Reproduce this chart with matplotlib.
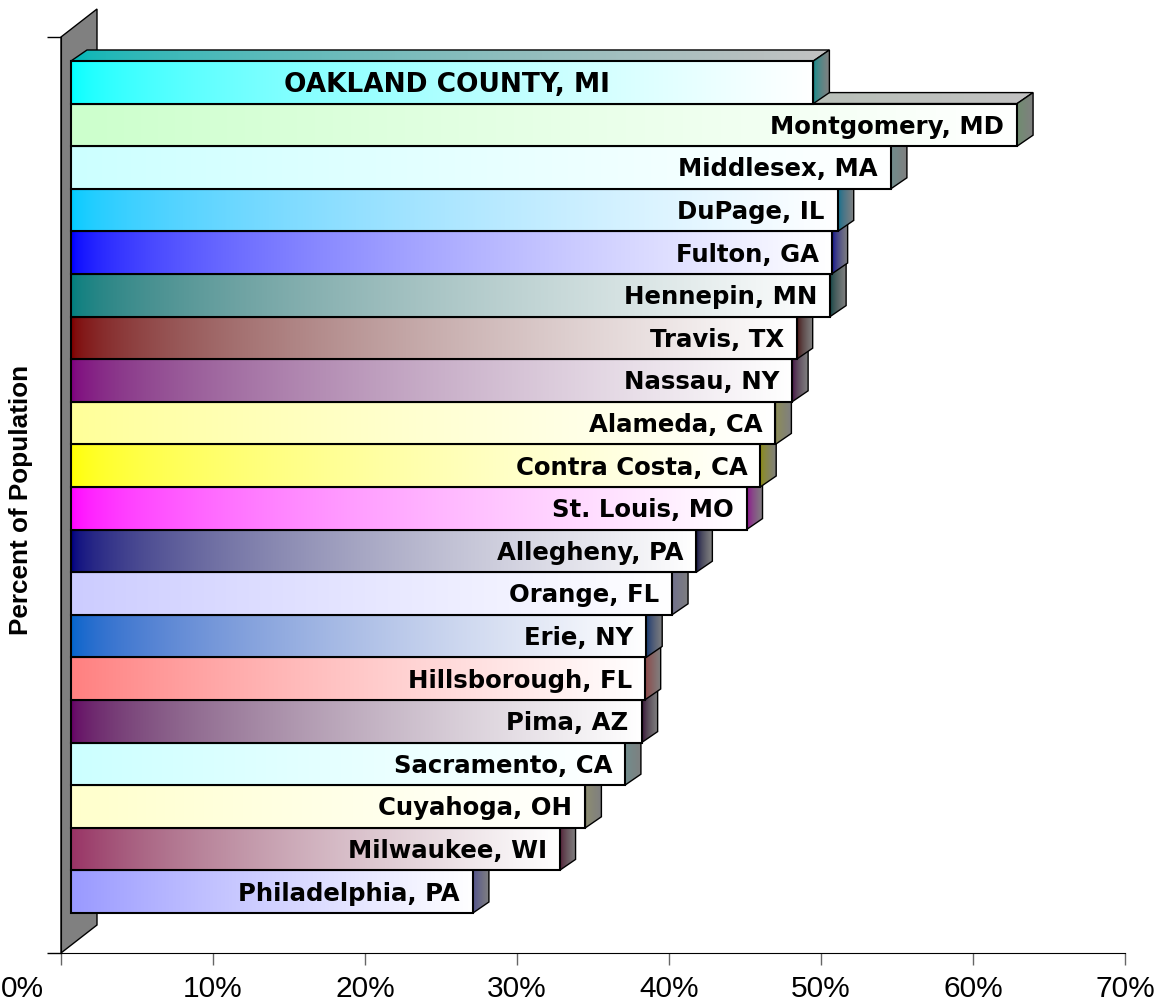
import numpy as np
import matplotlib
matplotlib.use("Agg")
import matplotlib.pyplot as plt
from matplotlib.patches import Polygon
from matplotlib.colors import to_rgb
from matplotlib.transforms import ScaledTranslation

plt.rcParams['font.family'] = ['Liberation Sans', 'DejaVu Sans']

# ---------------- data ----------------
counties = ["OAKLAND COUNTY, MI", "Montgomery, MD", "Middlesex, MA", "DuPage, IL",
            "Fulton, GA", "Hennepin, MN", "Travis, TX", "Nassau, NY", "Alameda, CA",
            "Contra Costa, CA", "St. Louis, MO", "Allegheny, PA", "Orange, FL",
            "Erie, NY", "Hillsborough, FL", "Pima, AZ", "Sacramento, CA",
            "Cuyahoga, OH", "Milwaukee, WI", "Philadelphia, PA"]
values = [49.5, 62.9, 54.6, 51.1, 50.7, 50.6, 48.4, 48.1, 47.0, 46.0,
          45.1, 41.8, 40.2, 38.5, 38.4, 38.2, 37.1, 34.5, 32.8, 27.1]
bar_colors = ["#00FFFF", "#CCFFCC", "#CCFFFF", "#00CCFF", "#0000FF", "#008080",
              "#800000", "#800080", "#FFFF99", "#FFFF00", "#FF00FF", "#000080",
              "#CCCCFF", "#0066CC", "#FF8080", "#660066", "#CCFFFF", "#FFFFCC",
              "#993366", "#9999FF"]
xticks = [0, 10, 20, 30, 40, 50, 60, 70]
xtick_labels = ["0%", "10%", "20%", "30%", "40%", "50%", "60%", "70%"]
ylabel = "Percent of Population"

# ---------------- figure ----------------
W, H = 1161, 1007
fig = plt.figure(figsize=(W / 100, H / 100), dpi=100)
ax = fig.add_axes([61 / W, 54 / H, (1125 - 61) / W, (953 - 37) / H])
y0, y1 = -1.439, 20.063
ax.set_xlim(0, 70)
ax.set_ylim(y0, y1)

pxx = (1125 - 61) / 70.0      # px per percent
pxy = (953 - 37) / (y1 - y0)  # px per bar unit
dx = 16 / pxx
dy = 11 / pxy
left = 10 / pxx
GAMMA = 1.8

# wall
wdx, wdy = 36 / pxx, 28 / pxy
wall = Polygon([(0, y0), (0, y1), (wdx, y1 + wdy), (wdx, y0 + wdy)], closed=True,
               facecolor="#808080", edgecolor="black", lw=1.0, zorder=1, clip_on=False)
ax.add_patch(wall)


def gradient(c_left, c_right, npts=256):
    t = np.linspace(0, 1, npts)[None, :, None]
    a = np.array(c_left)[None, None, :] ** GAMMA
    b = np.array(c_right)[None, None, :] ** GAMMA
    return ((1 - t) * a + t * b) ** (1 / GAMMA)


def grad_poly(ax, pts, c_left, c_right, z):
    poly = Polygon(pts, closed=True, facecolor="none", edgecolor="black", lw=1.0,
                   zorder=z + 0.05, clip_on=False)
    ax.add_patch(poly)
    xs = [p[0] for p in pts]
    ys = [p[1] for p in pts]
    im = ax.imshow(gradient(c_left, c_right, 64),
                   extent=[min(xs), max(xs), min(ys), max(ys)], aspect="auto",
                   interpolation="bilinear", zorder=z, origin="lower")
    im.set_clip_path(poly)
    return poly


n = len(counties)
ypos = [n - 1 - i for i in range(n)]
bars = ax.barh(ypos, [v - left for v in values], left=left, height=1.0,
               color=bar_colors, edgecolor="black", linewidth=1.5)

for i in range(n):
    y = ypos[i]
    v = values[i]
    c = np.array(to_rgb(bar_colors[i]))
    z = 2 + y
    top, bot = y + 0.5, y - 0.5
    # top face
    grad_poly(ax, [(left, top), (left + dx, top + dy), (v + dx, top + dy), (v, top)],
              c * 0.72, np.array([0.76, 0.76, 0.76]), z)
    # side face
    grad_poly(ax, [(v, bot), (v, top), (v + dx, top + dy), (v + dx, bot + dy)],
              c * 0.55, np.array([0.5, 0.5, 0.5]), z + 0.1)
    # front face gradient
    b = bars[i]
    b.set_zorder(z + 0.3)
    ax.imshow(gradient(c, np.ones(3)), extent=[left, v, bot, top], aspect="auto",
              interpolation="bilinear", zorder=z + 0.2, origin="lower")
    b.set_facecolor("none")
    # label
    if i == 0:
        ax.text((left + v) / 2 + 0.3, y - 0.22, counties[i], ha="center", va="baseline",
                fontsize=19, fontweight="bold", family="DejaVu Sans", zorder=z + 0.5)
    else:
        ax.text(v - 0.85, y - 0.21, counties[i], ha="right", va="baseline",
                fontsize=17.6, fontweight="bold", family="DejaVu Sans", zorder=z + 0.5)

# axes styling
for s in ["top", "right"]:
    ax.spines[s].set_visible(False)
ax.spines["left"].set_color("black")
ax.spines["bottom"].set_color("black")
ax.spines["bottom"].set_zorder(50)
ax.set_xticks(xticks)
ax.set_xticklabels(xtick_labels, fontsize=21.5)
ax.tick_params(axis="x", length=8.6, width=1, color="#666666", pad=7)
ax.set_yticks([y0, y1])
ax.set_yticklabels([])
ax.tick_params(axis="y", length=10, width=1, color="black")

# shift the 0% label like the original
lab0 = ax.xaxis.get_major_ticks()[0].label1
lab0.set_transform(lab0.get_transform() + ScaledTranslation(-0.39, 0, fig.dpi_scale_trans))

fig.text(21 / W, 1 - 500 / H, ylabel, rotation=90, ha="center", va="center",
         fontsize=18.8, fontweight="bold")

fig.savefig("out.png", dpi=100)
